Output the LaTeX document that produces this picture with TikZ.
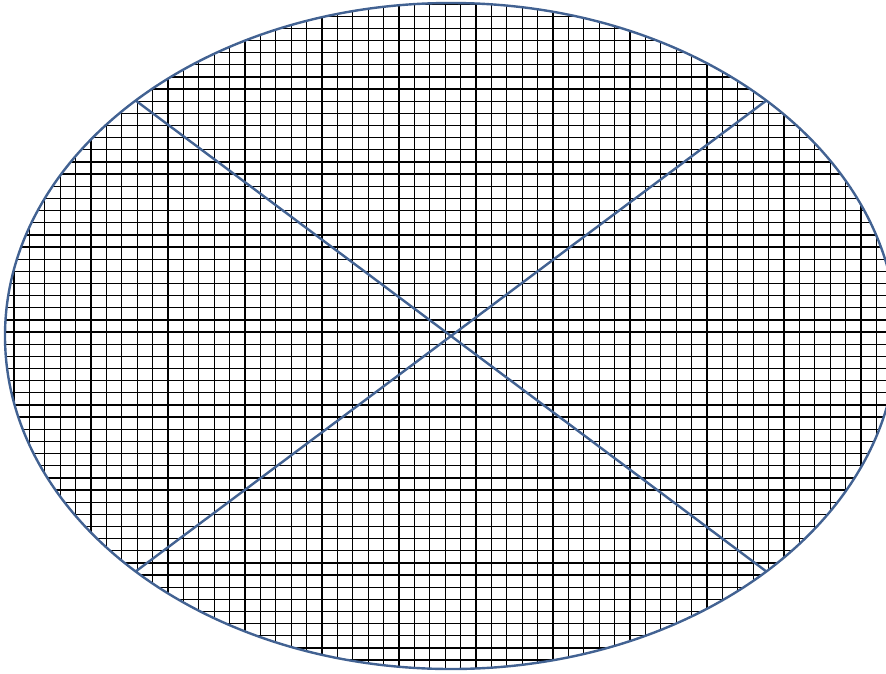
\documentclass[tikz,border=0pt]{standalone}
\usepackage{tikz}
\usetikzlibrary{shapes.geometric}

\definecolor{rimblue}{RGB}{66,98,146}

\begin{document}
\begin{tikzpicture}[
  x=1pt,y=-1pt,
  rim/.style={draw=rimblue,line width=2.4pt},
  gridline/.style={black,line width=1.3pt},
  disc/.style={ellipse,rim,minimum width=892pt,minimum height=666pt,
               inner sep=0pt,outer sep=0pt}
]
\useasboundingbox[fill=white] (0,0) rectangle (886,673);
% hatching inside the disc
\begin{scope}
  \clip (451,336) ellipse [x radius=446,y radius=333];
  \foreach \k in {0,...,56}
    \draw[gridline] (14+15.4*\k,0) -- (14+15.4*\k,673);
  \foreach \k in {0,...,54}
    \draw[gridline] (0,4+12.15*\k) -- (886,4+12.15*\k);
\end{scope}
\node[disc] (oval) at (451,336) {};
\draw[rim] (oval.north west) -- (oval.south east);
\draw[rim] (oval.north east) -- (oval.south west);
\end{tikzpicture}
\end{document}
